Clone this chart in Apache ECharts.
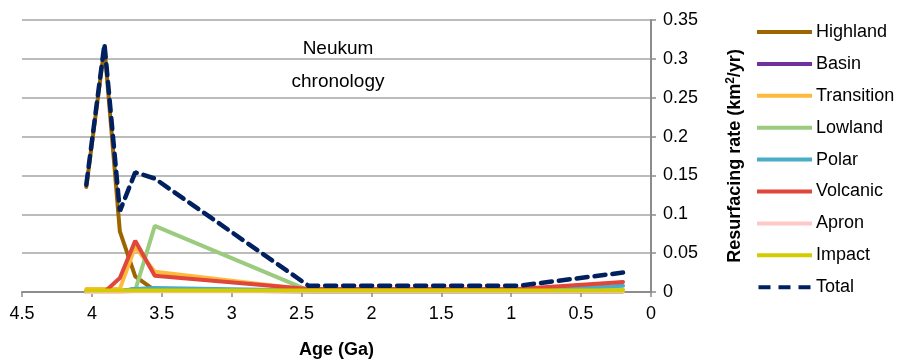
<!DOCTYPE html>
<html>
<head>
<meta charset="utf-8">
<script src="https://cdn.jsdelivr.net/npm/echarts@6/dist/echarts.min.js"></script>
<style>
  html, body { margin: 0; padding: 0; background: #fff; }
  #chart { width: 905px; height: 364px; }
</style>
</head>
<body>
<div id="chart"></div>
<script>
// ages (Ga) of the data points
const ages = [4.04, 3.91, 3.80, 3.69, 3.55, 2.45, 0.95, 0.2]

// resurfacing rate per unit (km2/yr)
const highland = [0.135, 0.315, 0.078, 0.02, 0.002, 0.001, 0.001, 0.001]
const basin = [0.001, 0.001, 0.001, 0.004, 0.002, 0.001, 0.001, 0.001]
const transition = [0.004, 0.004, 0.004, 0.058, 0.026, 0.003, 0.003, 0.003]
const lowland = [0.001, 0.001, 0.001, 0.002, 0.085, 0.002, 0.002, 0.002]
const polar = [0.001, 0.001, 0.001, 0.004, 0.005, 0.002, 0.002, 0.008]
const volcanic = [0.0, 0.0, 0.018, 0.066, 0.021, 0.004, 0.004, 0.013]
const apron = [0.0, 0.0, 0.0, 0.001, 0.001, 0.001, 0.001, 0.001]
const impact = [0.002, 0.002, 0.002, 0.002, 0.002, 0.002, 0.002, 0.002]
const total = [0.138, 0.319, 0.104, 0.154, 0.146, 0.008, 0.008, 0.025]

const seriesDefs = [
  { name: 'Highland', data: highland, color: '#9C6500' },
  { name: 'Basin', data: basin, color: '#7030A0' },
  { name: 'Transition', data: transition, color: '#FFB93C' },
  { name: 'Lowland', data: lowland, color: '#9BCB7E' },
  { name: 'Polar', data: polar, color: '#4BACC6' },
  { name: 'Volcanic', data: volcanic, color: '#E0463A' },
  { name: 'Apron', data: apron, color: '#FFC8C8' },
  { name: 'Impact', data: impact, color: '#D2CC00' },
  { name: 'Total', data: total, color: '#002060', dashed: true }
]

const font = 'Liberation Sans, Arial, sans-serif'
const chart = echarts.init(document.getElementById('chart'))

chart.setOption({
  animation: false,
  textStyle: { fontFamily: font },
  grid: { left: 22, right: 254, top: 20, bottom: 71 },
  title: {
    text: 'Neukum\nchronology',
    left: 333,
    top: 27,
    textAlign: 'center',
    textStyle: { fontSize: 19, fontWeight: 'normal', color: '#000', lineHeight: 33, fontFamily: font }
  },
  legend: {
    orient: 'vertical',
    left: 752,
    top: 18,
    itemWidth: 55,
    itemHeight: 4,
    itemGap: 13.9,
    icon: 'rect',
    textStyle: { fontSize: 18, color: '#000', padding: [0, 0, 0, -1] },
    data: seriesDefs.map(s => ({
      name: s.name,
      icon: s.dashed ? 'path://M0,0 h12 v4 h-12 z M20,0 h12 v4 h-12 z M40,0 h12 v4 h-12 z' : 'rect'
    }))
  },
  xAxis: {
    type: 'value',
    inverse: true,
    min: 0,
    max: 4.5,
    interval: 0.5,
    name: 'Age (Ga)',
    nameLocation: 'middle',
    nameGap: 49,
    nameTextStyle: { fontSize: 18, fontWeight: 'bold', color: '#000' },
    axisLine: { lineStyle: { color: '#8c8c8c', width: 2 } },
    axisTick: { show: true, length: 5, lineStyle: { color: '#8c8c8c', width: 1.5 } },
    axisLabel: { fontSize: 18, color: '#000', margin: 13 },
    splitLine: { show: false }
  },
  yAxis: {
    type: 'value',
    position: 'right',
    min: 0,
    max: 0.35,
    interval: 0.05,
    name: '{a|Resurfacing rate (km}{s|2}{a|/yr)}',
    nameLocation: 'middle',
    nameGap: 74,
    nameRotate: 90,
    nameTextStyle: {
      rich: {
        a: { fontSize: 18, fontWeight: 'bold', color: '#000', fontFamily: font },
        s: { fontSize: 12, fontWeight: 'bold', color: '#000', fontFamily: font, verticalAlign: 'top', padding: [0, 0, 8, 0] }
      }
    },
    axisLine: { show: true, lineStyle: { color: '#8c8c8c', width: 2 } },
    axisTick: { show: true, length: 5, lineStyle: { color: '#8c8c8c', width: 1.5 } },
    axisLabel: { fontSize: 18, color: '#000', margin: 12 },
    splitLine: { show: true, lineStyle: { color: '#a6a6a6', width: 1.5 } }
  },
  series: seriesDefs.map(s => ({
    name: s.name,
    type: 'line',
    data: ages.map((a, i) => [a, s.data[i]]),
    symbol: 'none',
    color: s.color,
    lineStyle: {
      color: s.color,
      width: s.dashed ? 4.5 : 4,
      type: s.dashed ? [11, 7] : 'solid',
      cap: 'round'
    }
  }))
})
</script>
</body>
</html>
